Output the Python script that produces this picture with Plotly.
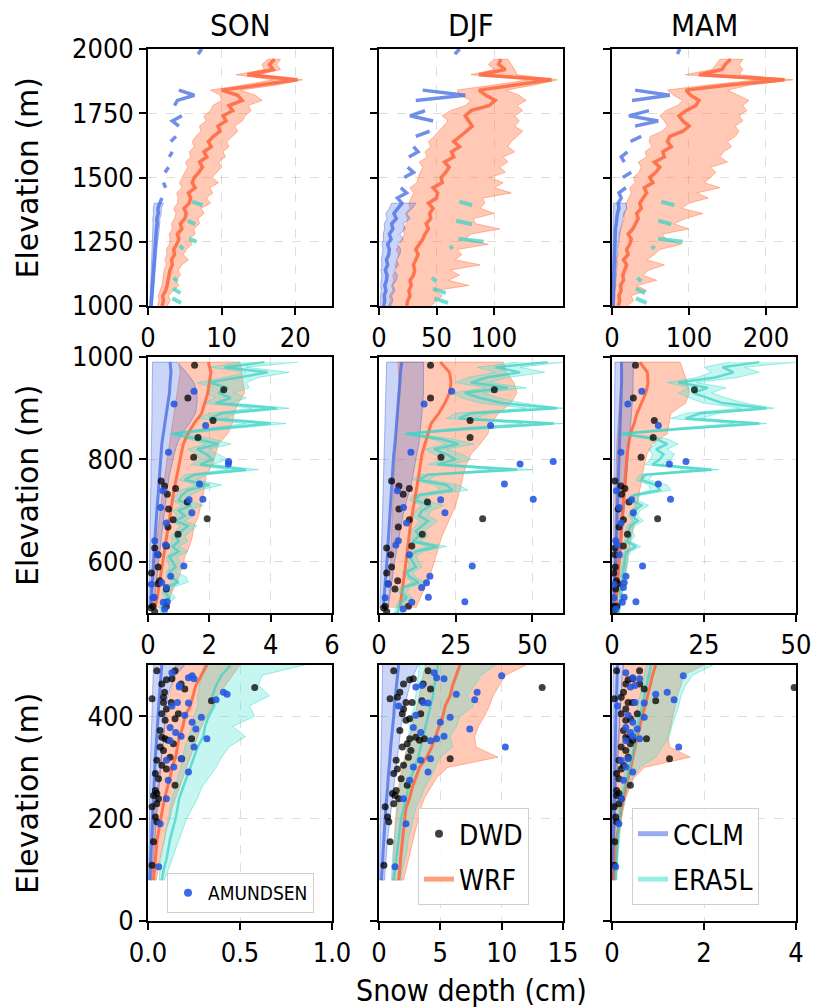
import plotly.graph_objects as go
from plotly.subplots import make_subplots

SEASONS = ["SON", "DJF", "MAM"]

# ---------------- Row 1 (1000-2000 m) ----------------
Z1 = list(range(1000, 1961, 20))      # WRF bins
Z1C = list(range(1000, 2001, 20))     # CCLM median bins
Z1B = list(range(1000, 1401, 20))     # CCLM band bins

WRF1_SON_MED = [1.9, 2.1, 2.0, 2.4, 2.6, 2.7, 2.9, 3.0, 3.3, 3.2, 3.6, 3.5, 3.9, 4.2, 4.0, 4.6, 4.4, 5.0, 5.2, 4.9,
                5.6, 5.8, 5.5, 6.4, 6.0, 6.3, 6.9, 7.4, 7.0, 8.0, 7.6, 8.6, 8.2, 8.9, 9.8, 9.5, 10.6, 10.2, 11.5, 11.0,
                12.8, 12.2, 10.0, 15.5, 20.3, 13.5, 17.0, 16.5, 17.2]
WRF1_SON_LO = [1.3, 1.5, 1.4, 1.7, 1.9, 2.0, 2.1, 2.2, 2.5, 2.3, 2.6, 2.5, 2.9, 3.0, 2.9, 3.3, 3.2, 3.6, 3.8, 3.5,
               4.0, 4.1, 3.9, 4.6, 4.3, 4.6, 5.0, 5.4, 5.1, 5.8, 5.6, 6.3, 6.0, 6.5, 7.2, 7.0, 7.9, 7.6, 8.5, 8.8,
               10.0, 9.8, 8.5, 13.0, 17.0, 12.0, 15.8, 15.5, 16.3]
WRF1_SON_HI = [2.6, 3.0, 2.8, 3.4, 4.2, 3.8, 4.4, 4.1, 4.6, 5.5, 4.8, 5.2, 6.0, 5.6, 6.4, 6.2, 7.0, 6.8, 7.6, 7.2,
               8.5, 7.9, 8.8, 8.4, 9.6, 8.7, 9.3, 10.0, 9.6, 10.5, 10.2, 11.0, 10.7, 11.5, 12.2, 11.8, 12.8, 13.2, 14.0, 13.6,
               15.5, 14.6, 12.5, 17.5, 21.0, 15.0, 18.0, 17.5, 18.0]
WRF1_DJF_MED = [24, 25, 27, 26, 28, 27, 30, 31, 30, 32, 34, 32, 35, 38, 40, 43, 41, 45, 44, 47,
                43, 50, 51, 47, 55, 54, 58, 61, 57, 65, 63, 70, 65, 71, 76, 81, 78, 75, 80, 96,
                101, 93, 87, 119, 150, 87, 110, 104, 106]
WRF1_DJF_LO = [8, 10, 9, 12, 11, 13, 12, 15, 14, 16, 17, 15, 18, 20, 22, 21, 24, 25, 23, 27,
               26, 28, 30, 27, 33, 34, 36, 38, 35, 42, 40, 45, 43, 48, 52, 56, 60, 55, 62, 75,
               80, 70, 68, 100, 130, 80, 100, 95, 100]
WRF1_DJF_HI = [45, 50, 55, 48, 78, 60, 70, 62, 88, 66, 72, 68, 95, 75, 80, 105, 84, 82, 100, 88,
               92, 90, 115, 100, 108, 96, 110, 105, 112, 108, 118, 112, 115, 120, 125, 118, 122, 118, 125, 120,
               128, 122, 110, 135, 155, 120, 118, 115, 112]
WRF1_MAM_MED = [8, 10, 9, 12, 11, 15, 14, 17, 19, 15, 21, 19, 23, 25, 21, 27, 30, 34, 32, 38,
                36, 40, 45, 42, 53, 49, 57, 62, 55, 68, 66, 77, 72, 75, 92, 100, 92, 87, 96, 109,
                113, 102, 96, 152, 224, 113, 143, 147, 154]
WRF1_MAM_LO = [2, 3, 3, 4, 4, 5, 5, 6, 7, 6, 8, 8, 9, 10, 9, 12, 14, 16, 15, 19,
               18, 22, 25, 23, 30, 28, 35, 38, 34, 45, 43, 52, 48, 50, 65, 72, 68, 62, 70, 85,
               92, 80, 72, 125, 190, 95, 130, 135, 140]
WRF1_MAM_HI = [20, 28, 25, 45, 32, 58, 40, 48, 68, 45, 55, 62, 90, 70, 65, 100, 80, 95, 118, 90,
               100, 125, 110, 140, 120, 128, 135, 128, 150, 140, 145, 155, 150, 160, 165, 160, 170, 165, 175, 170,
               178, 165, 150, 180, 235, 165, 170, 165, 170]

CCLM1_SON_MED = [0.4, 0.45, 0.5, 0.5, 0.55, 0.6, 0.65, 0.7, 0.7, 0.8,
                 0.85, 0.9, 0.95, 1.0, 1.1, 1.15, 1.25, 1.2, 1.4, 1.35,
                 1.6, 1.9, None, 2.4, 2.1, None, 2.3, 2.8, None, 2.9,
                 3.3, None, 3.1, 3.8, None, 4.2, 3.3, 4.6, None, 3.6,
                 4.0, 6.3, 4.2, None, None, None, None, None, None, 6.8, 7.3]
CCLM1_DJF_MED = [4, 5, 4.5, 6, 5, 6.5, 7, 5.5, 7.5, 6.5,
                 8.5, 9, 7.5, 10.5, 9, 12, 11, 15, 13, 17,
                 20, 16, 24, 19, None, 22, 30, 25, None, 26,
                 34, 30, None, 32, 44, None, 47, 27, 40, None,
                 32, 75, 38, None, None, None, None, None, None, 66, 70]
CCLM1_MAM_MED = [1, 1.2, 1.5, 1.2, 2, 1.6, 2.2, 2, 2.6, 2.2,
                 3, 2.6, 3.2, 3.8, 4.2, 4.5, 5.5, 6, 7, 9,
                 8, 12, 9, 18, None, 14, 25, None, 16, 12,
                 20, None, 24, 38, None, 30, 60, 22, 48, None,
                 26, 75, 30, None, None, None, None, None, None, 85, 88]
CCLM1_SON_LO = [0.25, 0.28, 0.3, 0.3, 0.33, 0.35, 0.38, 0.4, 0.4, 0.45, 0.48, 0.5, 0.52, 0.55, 0.6, 0.62, 0.68, 0.65, 0.75, 0.72, 0.85]
CCLM1_SON_HI = [0.6, 0.65, 0.7, 0.72, 0.78, 0.85, 0.9, 0.98, 1.0, 1.1, 1.15, 1.2, 1.3, 1.35, 1.45, 1.5, 1.6, 1.6, 1.8, 1.8, 2.1]
CCLM1_DJF_LO = [1, 1.5, 1.2, 2, 1.5, 2, 2.5, 1.8, 2.5, 2.2, 3, 3.5, 2.8, 4, 3.5, 5, 4.5, 7, 6, 9, 11]
CCLM1_DJF_HI = [10, 12, 11, 14, 12, 15, 16, 13, 17, 15, 18, 19, 16, 21, 18, 23, 21, 27, 24, 29, 32]
CCLM1_MAM_LO = [0.2, 0.25, 0.3, 0.25, 0.4, 0.35, 0.45, 0.4, 0.5, 0.45, 0.6, 0.55, 0.7, 0.8, 0.9, 1.0, 1.2, 1.4, 1.6, 2.2, 2.0]
CCLM1_MAM_HI = [3, 3.5, 4, 3.5, 5, 4.5, 5.5, 5, 6.5, 5.5, 7, 6.5, 7.5, 9, 10, 11, 13, 14, 16, 19, 18]

ERA1_Z = [1012, 1030, None, 1050, 1068, None, 1096, 1110, None, 1222, 1234, None, 1250, 1262, None, 1318, 1332, None, 1392, 1406]
ERA1_SON = [4.5, 3.3, None, 4.4, 3.4, None, 4.0, 3.5, None, 4.8, 4.3, None, 6.6, 5.6, None, 6.4, 5.4, None, 7.4, 6.0]
ERA1_DJF = [60, 48, None, 58, 47, None, 50, 46, None, 64, 62, None, 91, 69, None, 81, 67, None, 81, 70]
ERA1_MAM = [45, 31, None, 43, 31, None, 38, 33, None, 55, 52, None, 92, 60, None, 77, 60, None, 81, 64]

# ---------------- Row 2 (500-1000 m) ----------------
Z2 = list(range(510, 991, 20))
Z2E = list(range(990, 499, -10))

WRF2_SON_MED = [0.22, 0.3, 0.35, 0.4, 0.45, 0.5, 0.55, 0.6, 0.65, 0.72, 0.75, 0.82, 0.88, 0.95, 1.0, 1.08, 1.15, 1.3, 1.5, 1.75, 1.85, 1.95, 2.0, 2.05, 1.97]
WRF2_SON_LO = [0.06, 0.1, 0.14, 0.17, 0.2, 0.24, 0.27, 0.3, 0.35, 0.38, 0.42, 0.45, 0.5, 0.55, 0.6, 0.65, 0.7, 0.75, 0.8, 0.85, 0.9, 0.95, 1.0, 1.05, 1.0]
WRF2_SON_HI = [0.55, 0.7, 0.85, 1.0, 1.12, 1.2, 1.35, 1.45, 1.5, 1.65, 1.72, 1.8, 1.85, 1.9, 2.1, 2.2, 2.3, 2.6, 2.75, 2.8, 2.95, 3.15, 3.1, 3.05, 3.0]
CCLM2_SON_MED = [0.08, 0.1, 0.12, 0.14, 0.16, 0.18, 0.2, 0.22, 0.25, 0.28, 0.3, 0.33, 0.35, 0.38, 0.4, 0.43, 0.45, 0.5, 0.55, 0.6, 0.65, 0.7, 0.72, 0.75, 0.72]
CCLM2_SON_LO = [0.02, 0.03, 0.03, 0.04, 0.05, 0.05, 0.06, 0.07, 0.07, 0.08, 0.08, 0.09, 0.09, 0.1, 0.1, 0.11, 0.11, 0.12, 0.12, 0.13, 0.13, 0.14, 0.14, 0.15, 0.15]
CCLM2_SON_HI = [0.18, 0.22, 0.26, 0.3, 0.33, 0.36, 0.4, 0.44, 0.48, 0.52, 0.56, 0.6, 0.65, 0.7, 0.78, 0.85, 0.95, 1.1, 1.35, 1.55, 1.6, 1.6, 1.5, 1.25, 0.95]
WRF2_DJF_MED = [6.8, 7.3, 7.8, 8.2, 8.6, 9.0, 9.3, 9.8, 10.2, 10.8, 11.3, 12.0, 12.5, 13.0, 13.5, 14.0, 15.0, 16.0, 17.0, 19.5, 21.5, 23.0, 23.5, 23.0, 20.0]
WRF2_DJF_LO = [3.0, 3.2, 3.4, 3.5, 3.6, 3.8, 3.9, 4.0, 4.2, 4.3, 4.5, 4.6, 4.8, 5.0, 5.1, 5.3, 5.5, 5.6, 5.8, 6.0, 6.2, 6.3, 6.5, 6.4, 6.2]
WRF2_DJF_HI = [12, 13.5, 15, 16.5, 17.5, 18.5, 19.5, 20.5, 22, 23.5, 25, 26, 26.8, 27.5, 28.5, 30, 33, 35.5, 36.5, 39, 43, 45, 44, 41.5, 40.5]
CCLM2_DJF_MED = [1.4, 1.7, 2.0, 2.2, 2.5, 2.7, 2.9, 3.1, 3.3, 3.5, 3.6, 3.8, 4.0, 4.3, 4.5, 4.8, 5.2, 5.5, 5.8, 6.0, 6.2, 6.5, 6.8, 7.0, 7.4]
CCLM2_DJF_LO = [0.3, 0.4, 0.5, 0.6, 0.7, 0.8, 0.9, 1.0, 1.1, 1.2, 1.3, 1.4, 1.5, 1.6, 1.7, 1.8, 1.9, 2.0, 2.1, 2.2, 2.3, 2.4, 2.5, 2.5, 2.5]
CCLM2_DJF_HI = [3.0, 3.6, 4.0, 4.4, 4.8, 5.2, 5.8, 6.5, 7.2, 7.8, 8.5, 9.5, 10.5, 11.2, 11.7, 12.3, 13.0, 13.4, 13.8, 14.0, 14.3, 14.5, 14.6, 14.5, 14.5]
WRF2_MAM_MED = [0.9, 1.1, 1.3, 1.5, 1.7, 1.9, 2.1, 2.3, 2.5, 2.7, 2.9, 3.1, 3.3, 3.6, 3.9, 4.1, 4.5, 5.0, 6.0, 6.8, 8.0, 9.2, 9.8, 9.6, 7.6]
WRF2_MAM_LO = [0.3, 0.35, 0.4, 0.45, 0.5, 0.55, 0.6, 0.65, 0.7, 0.8, 0.85, 0.9, 0.95, 1.0, 1.1, 1.2, 1.3, 1.5, 1.7, 1.9, 2.1, 2.3, 2.4, 2.4, 2.3]
WRF2_MAM_HI = [2.1, 2.5, 3.0, 3.4, 3.9, 4.3, 4.7, 5.2, 5.6, 6.1, 6.6, 7.2, 7.8, 8.3, 8.8, 9.5, 11, 15, 15.5, 16, 20, 21, 20.5, 19.5, 18.5]
CCLM2_MAM_MED = [0.55, 0.6, 0.7, 0.8, 0.9, 1.0, 1.1, 1.2, 1.3, 1.4, 1.5, 1.6, 1.7, 1.8, 1.9, 2.0, 2.1, 2.2, 2.3, 2.4, 2.5, 2.5, 2.6, 2.6, 2.6]
CCLM2_MAM_LO = [0.1, 0.12, 0.15, 0.18, 0.2, 0.22, 0.25, 0.28, 0.3, 0.35, 0.4, 0.45, 0.5, 0.55, 0.6, 0.62, 0.65, 0.7, 0.72, 0.75, 0.78, 0.8, 0.8, 0.8, 0.8]
CCLM2_MAM_HI = [1.3, 1.5, 1.7, 1.9, 2.1, 2.3, 2.5, 2.7, 2.9, 3.1, 3.3, 3.5, 3.7, 3.9, 4.1, 4.3, 4.5, 4.8, 5.0, 5.3, 5.5, 5.7, 5.8, 5.8, 5.8]

ERA2_SON_MED = [3.8, 2.5, 3.9, 3.0, 2.0, 2.6, 2.3, 2.7, 2.2, 4.2, 2.4, 2.0, 4.0, 2.2, 0.8, 1.6, 2.3, 1.6, 1.9, 2.1,
                1.7, 3.2, 1.5, 1.2, 2.0, 1.3, 1.1, 1.0, 1.4, 1.0, 1.2, 0.9, 1.3, 1.1, 0.9, 1.0, 0.8, 1.0, 0.7, 0.8,
                0.9, 0.7, 0.75, 1.0, 0.6, 0.55, 0.7, 0.5, 0.45, 0.5]
ERA2_SON_LO = [3.0, 2.0, 3.2, 2.5, 1.6, 2.1, 1.9, 2.2, 1.8, 3.4, 2.0, 1.6, 3.2, 1.8, 0.7, 1.3, 1.9, 1.3, 1.6, 1.7,
               1.4, 2.6, 1.2, 1.0, 1.6, 1.05, 0.9, 0.8, 1.1, 0.8, 0.95, 0.75, 1.05, 0.9, 0.75, 0.8, 0.65, 0.8, 0.6, 0.65,
               0.7, 0.6, 0.6, 0.8, 0.5, 0.45, 0.55, 0.42, 0.38, 0.4]
ERA2_SON_HI = [4.9, 3.2, 4.6, 3.6, 3.2, 3.3, 2.8, 3.2, 2.7, 4.6, 2.9, 2.5, 4.5, 2.7, 1.2, 2.1, 2.7, 2.0, 2.3, 2.6,
               2.1, 3.6, 1.9, 1.6, 2.4, 1.7, 1.4, 1.3, 1.8, 1.3, 1.5, 1.2, 1.6, 1.4, 1.2, 1.3, 1.0, 1.3, 0.95, 1.05,
               1.15, 0.9, 1.25, 1.3, 0.8, 0.75, 0.9, 0.68, 0.6, 0.65]
ERA2_DJF_MED = [55, 38, 46, 35, 30, 42, 28, 33, 40, 58, 30, 26, 57, 28, 9, 20, 26, 18, 22, 25,
                19, 45, 16, 13, 22, 24, 13, 12, 17, 14, 13, 16, 14, 12, 13, 11, 19, 12, 10, 11,
                12, 9, 10, 13, 8, 7.5, 9, 7, 6.5, 6]
ERA2_DJF_LO = [45, 32, 38, 29, 25, 35, 24, 27, 33, 48, 25, 22, 47, 23, 8, 17, 22, 15, 18, 21,
               16, 37, 13, 11, 18, 20, 11, 10, 14, 12, 11, 13, 12, 10, 11, 9.5, 16, 10, 8.5, 9.5,
               10, 7.5, 8.5, 11, 7, 6.5, 7.5, 6, 5.5, 5]
ERA2_DJF_HI = [60, 46, 54, 42, 36, 48, 34, 39, 47, 60, 36, 31, 60, 34, 11, 24, 31, 22, 27, 30,
               23, 50, 19, 16, 26, 29, 16, 15, 21, 17, 16, 19, 17, 15, 16, 13.5, 22, 14.5, 12, 13,
               14, 11, 12, 15, 10, 9, 11, 8.5, 8, 7.5]
ERA2_MAM_MED = [40, 30, 33, 28, 18, 26, 22, 26, 30, 42, 24, 20, 40, 19, 2.5, 12, 15, 12, 14, 13,
                11, 27, 9, 8, 12, 13, 6, 5.5, 8, 6, 5.5, 7, 5, 4.5, 5, 4, 6.5, 4, 3.5, 3.5,
                3.2, 3, 2.8, 3.4, 2.4, 2.2, 2.5, 2, 1.8, 1.7]
ERA2_MAM_LO = [32, 25, 27, 23, 15, 21, 18, 21, 25, 35, 20, 16, 33, 15, 2, 10, 12, 10, 11, 10.5,
               9, 22, 7.5, 6.5, 10, 10.5, 5, 4.5, 6.5, 5, 4.5, 5.5, 4, 3.7, 4, 3.3, 5.2, 3.3, 2.9, 2.9,
               2.6, 2.4, 2.3, 2.7, 2, 1.8, 2, 1.6, 1.5, 1.4]
ERA2_MAM_HI = [50, 36, 40, 34, 23, 31, 27, 31, 36, 44, 29, 24, 42, 23, 3.2, 15, 18, 15, 17, 16,
               13.5, 29, 11, 10, 15, 16, 7.5, 7, 10, 7.5, 7, 8.5, 6.2, 5.6, 6.2, 5, 7.8, 5, 4.4, 4.4,
               4, 3.8, 3.5, 4.2, 3, 2.8, 3.1, 2.5, 2.3, 2.1]

DWD2_ELEV = [984, 920, 876, 843, 804, 936, 758, 748, 732, 743, 717, 684, 703, 682, 668, 654, 631, 627, 614, 590,
             578, 563, 547, 557, 513, 513, 503, 510]
DWD2_SON = [1.52, 1.30, 2.12, 1.63, 1.49, 2.47, 0.43, 0.54, 0.63, 0.90, 1.28, 1.93, 0.67, 0.82, 0.65, 0.98, 0.60, 0.22, 0.33, 0.33,
            0.11, 0.38, 0.60, 0.33, 0.60, 0.16, 0.22, 0.09]
DWD2_DJF = [16.8, 16.8, 29.7, 29.7, 20.2, 37.6, 4.1, 6.5, 7.9, 9.9, 15.8, 33.8, 6.5, 9.9, 6.3, 14.1, 10.7, 2.5, 3.8, 4.1,
            2.5, 6.1, 5.2, 3.0, 9.6, 2.0, 2.5, 1.5]
DWD2_MAM = [6.4, 5.8, 11.5, 11.2, 7.9, 22.4, 0.8, 2.4, 2.6, 3.5, 4.6, 12.4, 1.7, 3.1, 1.9, 4.2, 3.1, 0.8, 0.8, 0.9,
            0.5, 1.2, 1.0, 1.7, 1.3, 0.4, 0.5, 0.3]
AMU2_ELEV = [933, 908, 866, 814, 796, 791, 752, 739, 722, 721, 696, 706, 676, 641, 633, 614, 592, 572, 559, 550,
             531, 522, 521, 508, 530, 556]
AMU2_SON = [1.50, 0.85, 1.88, 0.67, 2.63, 2.62, 1.68, 0.49, 1.79, 1.34, 1.43, 0.41, 0.60, 0.22, 0.57, 0.30, 1.17, 0.74, 0.45, 0.60,
            0.20, 0.63, 0.50, 0.54, 0.16, 0.11]
AMU2_DJF = [23.7, 14.7, 36.4, 10.4, 56.8, 46.0, 40.9, 6.0, 50.3, 20.1, 21.5, 8.0, 9.0, 6.3, 5.5, 9.9, 30.4, 16.6, 15.5, 13.9,
            16.1, 28.0, 10.7, 7.9, 2.0, 3.0]
AMU2_MAM = [8.1, 4.3, 12.6, 2.4, 20.1, 15.6, 12.6, 1.2, 15.9, 5.3, 5.8, 2.0, 2.5, 1.0, 1.5, 2.0, 8.3, 3.8, 3.3, 3.1,
            3.3, 6.5, 2.8, 1.0, 0.5, 0.6]

# ---------------- Row 3 (0-500 m) ----------------
Z3 = list(range(500, 79, -20))

WRF3_SON_MED = [0.32, 0.29, 0.26, 0.245, 0.23, 0.20, 0.19, 0.17, 0.16, 0.15, 0.13, 0.12, 0.105, 0.09, 0.08, 0.07, 0.06, 0.05, 0.045, 0.04, 0.035, 0.03]
WRF3_SON_LO = [0.15, 0.14, 0.13, 0.12, 0.11, 0.10, 0.09, 0.085, 0.08, 0.07, 0.065, 0.06, 0.05, 0.045, 0.04, 0.035, 0.03, 0.025, 0.02, 0.02, 0.015, 0.015]
WRF3_SON_HI = [0.50, 0.46, 0.42, 0.38, 0.35, 0.32, 0.29, 0.27, 0.25, 0.23, 0.21, 0.19, 0.17, 0.15, 0.13, 0.12, 0.10, 0.09, 0.075, 0.065, 0.055, 0.045]
ERA3_SON_MED = [0.45, 0.40, 0.37, 0.35, 0.36, 0.33, 0.31, 0.30, 0.27, 0.25, 0.23, 0.21, 0.19, 0.17, 0.16, 0.15, 0.135, 0.12, 0.11, 0.10, 0.085, 0.075]
ERA3_SON_LO = [0.30, 0.29, 0.28, 0.27, 0.27, 0.25, 0.24, 0.22, 0.2, 0.19, 0.18, 0.16, 0.15, 0.13, 0.12, 0.11, 0.10, 0.09, 0.08, 0.07, 0.065, 0.06]
ERA3_SON_HI = [0.85, 0.62, 0.60, 0.66, 0.55, 0.58, 0.46, 0.53, 0.44, 0.40, 0.37, 0.33, 0.29, 0.27, 0.24, 0.21, 0.19, 0.17, 0.15, 0.13, 0.11, 0.09]
CCLM3_SON_MED = [0.075, 0.07, 0.066, 0.062, 0.058, 0.055, 0.05, 0.047, 0.044, 0.04, 0.037, 0.034, 0.031, 0.028, 0.025, 0.022, 0.02, 0.018, 0.016, 0.014, 0.012, 0.01]
CCLM3_SON_LO = [0.03, 0.028, 0.026, 0.024, 0.022, 0.02, 0.018, 0.016, 0.015, 0.014, 0.012, 0.011, 0.01, 0.009, 0.008, 0.007, 0.006, 0.005, 0.004, 0.004, 0.003, 0.003]
CCLM3_SON_HI = [0.2, 0.15, 0.125, 0.11, 0.1, 0.095, 0.09, 0.085, 0.08, 0.075, 0.07, 0.065, 0.06, 0.055, 0.05, 0.045, 0.04, 0.036, 0.032, 0.028, 0.024, 0.02]

WRF3_DJF_MED = [6.6, 6.3, 6.0, 5.8, 5.4, 5.2, 4.9, 4.6, 4.3, 3.9, 3.3, 3.0, 2.7, 2.5, 2.2, 2.1, 2.0, 1.95, 1.85, 1.75, 1.7, 1.6]
WRF3_DJF_LO = [3.8, 3.6, 3.4, 3.3, 3.1, 2.9, 2.7, 2.5, 2.3, 2.1, 1.9, 1.7, 1.6, 1.5, 1.4, 1.35, 1.3, 1.25, 1.2, 1.2, 1.15, 1.1]
WRF3_DJF_HI = [12.0, 10.3, 9.8, 9.3, 9.0, 8.6, 8.1, 7.8, 7.9, 9.7, 5.6, 4.7, 4.2, 3.7, 3.4, 3.2, 3.0, 2.8, 2.6, 2.4, 2.2, 2.0]
ERA3_DJF_MED = [4.8, 4.7, 4.5, 4.4, 4.2, 4.0, 3.8, 3.6, 3.4, 3.2, 2.9, 2.6, 2.4, 2.2, 2.0, 1.8, 1.7, 1.6, 1.5, 1.4, 1.3, 1.2]
ERA3_DJF_LO = [3.3, 3.2, 3.1, 3.0, 2.9, 2.6, 2.5, 2.4, 2.3, 2.2, 2.0, 1.9, 1.7, 1.6, 1.5, 1.4, 1.3, 1.2, 1.15, 1.1, 1.05, 1.0]
ERA3_DJF_HI = [9.5, 8.3, 7.8, 7.2, 7.7, 6.6, 6.3, 5.8, 6.0, 5.0, 4.6, 4.2, 3.7, 3.4, 3.0, 2.8, 2.6, 2.4, 2.3, 2.1, 1.9, 1.8]
CCLM3_DJF_MED = [1.6, 1.5, 1.4, 1.3, 1.25, 1.2, 1.1, 1.0, 0.95, 0.9, 0.8, 0.75, 0.7, 0.6, 0.55, 0.5, 0.45, 0.4, 0.35, 0.3, 0.25, 0.2]
CCLM3_DJF_LO = [0.3, 0.28, 0.26, 0.24, 0.22, 0.2, 0.19, 0.18, 0.17, 0.16, 0.15, 0.14, 0.13, 0.12, 0.11, 0.1, 0.09, 0.08, 0.07, 0.06, 0.05, 0.05]
CCLM3_DJF_HI = [3.2, 2.8, 2.5, 2.3, 2.1, 1.9, 1.8, 1.7, 1.6, 1.5, 1.4, 1.3, 1.2, 1.1, 1.0, 0.9, 0.8, 0.7, 0.6, 0.55, 0.5, 0.45]

WRF3_MAM_MED = [0.95, 0.88, 0.83, 0.78, 0.72, 0.66, 0.6, 0.55, 0.50, 0.46, 0.41, 0.35, 0.3, 0.25, 0.2, 0.17, 0.13, 0.1, 0.08, 0.06, 0.05, 0.04]
WRF3_MAM_LO = [0.25, 0.23, 0.21, 0.2, 0.18, 0.16, 0.15, 0.13, 0.12, 0.1, 0.09, 0.08, 0.07, 0.06, 0.05, 0.04, 0.035, 0.03, 0.025, 0.02, 0.02, 0.015]
WRF3_MAM_HI = [2.0, 1.55, 1.5, 1.42, 1.38, 1.32, 1.28, 1.22, 1.25, 1.7, 0.7, 0.48, 0.38, 0.3, 0.25, 0.2, 0.17, 0.14, 0.12, 0.1, 0.08, 0.07]
ERA3_MAM_MED = [0.85, 0.8, 0.75, 0.7, 0.65, 0.6, 0.56, 0.52, 0.48, 0.44, 0.38, 0.32, 0.27, 0.22, 0.18, 0.16, 0.14, 0.12, 0.11, 0.1, 0.09, 0.08]
ERA3_MAM_LO = [0.75, 0.7, 0.65, 0.6, 0.55, 0.5, 0.46, 0.43, 0.4, 0.36, 0.3, 0.25, 0.21, 0.17, 0.14, 0.12, 0.11, 0.1, 0.09, 0.08, 0.07, 0.06]
ERA3_MAM_HI = [2.2, 1.75, 1.6, 1.5, 1.45, 1.38, 1.3, 1.25, 1.1, 0.95, 0.6, 0.45, 0.36, 0.28, 0.24, 0.2, 0.18, 0.16, 0.14, 0.12, 0.11, 0.1]
CCLM3_MAM_MED = [0.12, 0.11, 0.1, 0.095, 0.09, 0.085, 0.08, 0.075, 0.07, 0.065, 0.06, 0.055, 0.05, 0.045, 0.04, 0.035, 0.03, 0.027, 0.024, 0.02, 0.017, 0.015]
CCLM3_MAM_LO = [0.03, 0.028, 0.026, 0.024, 0.022, 0.02, 0.018, 0.016, 0.015, 0.014, 0.012, 0.011, 0.01, 0.009, 0.008, 0.007, 0.006, 0.005, 0.004, 0.004, 0.003, 0.003]
CCLM3_MAM_HI = [0.25, 0.22, 0.2, 0.19, 0.18, 0.17, 0.16, 0.15, 0.14, 0.13, 0.12, 0.11, 0.1, 0.09, 0.08, 0.07, 0.06, 0.055, 0.05, 0.045, 0.04, 0.035]

DWD3_ELEV = [456, 434, 463, 471, 473, 463, 453, 447, 437, 427, 427, 414, 395, 405, 356, 372, 359, 356, 353, 340,
             333, 346, 317, 314, 304, 297, 288, 278, 265, 249, 245, 239, 229, 203, 194, 155, 109, 430, 489, 489,
             405, 392, 320, 255, 223]
DWD3_SON = [0.58, 0.022, 0.075, 0.10, 0.13, 0.18, 0.20, 0.09, 0.084, 0.084, 0.126, 0.10, 0.147, 0.165, 0.237, 0.066, 0.075, 0.093, 0.11, 0.066,
            0.084, 0.138, 0.183, 0.048, 0.075, 0.10, 0.04, 0.057, 0.147, 0.048, 0.03, 0.057, 0.048, 0.04, 0.048, 0.03, 0.022, 0.345, 0.048, 0.147,
            0.075, 0.093, 0.12, 0.04, 0.022]
DWD3_DJF = [13.3, 0.9, 2.0, 2.5, 2.8, 3.6, 4.2, 1.7, 1.5, 2.2, 2.7, 2.0, 2.5, 3.4, 3.7, 1.7, 3.0, 2.5, 3.3, 1.9,
            2.6, 2.3, 5.8, 1.4, 2.0, 1.5, 1.2, 1.8, 2.3, 1.1, 1.3, 1.6, 1.2, 0.7, 0.8, 0.9, 0.4, 3.5, 1.2, 4.0,
            1.9, 2.2, 2.4, 1.4, 0.5]
DWD3_MAM = [3.96, 0.05, 0.3, 0.35, 0.45, 0.6, 0.7, 0.25, 0.2, 0.35, 0.45, 0.3, 0.4, 0.55, 0.75, 0.25, 0.3, 0.35, 0.45, 0.2,
            0.3, 0.4, 1.25, 0.15, 0.25, 0.2, 0.1, 0.15, 0.4, 0.15, 0.1, 0.2, 0.15, 0.08, 0.1, 0.06, 0.05, 0.95, 0.1, 0.6,
            0.2, 0.3, 0.35, 0.1, 0.05]
AMU3_ELEV = [475, 473, 460, 447, 443, 432, 427, 426, 398, 388, 375, 378, 356, 340, 361, 352, 291, 317, 301, 314,
             275, 239, 190, 106, 457, 368, 479, 485, 420, 402]
AMU3_SON = [0.22, 0.25, 0.17, 0.41, 0.43, 0.37, 0.16, 0.22, 0.29, 0.24, 0.26, 0.12, 0.32, 0.25, 0.18, 0.12, 0.22, 0.18, 0.14, 0.10,
            0.11, 0.10, 0.066, 0.058, 0.17, 0.15, 0.24, 0.13, 0.13, 0.2]
AMU3_DJF = [4.7, 5.3, 3.5, 8.0, 6.3, 7.8, 3.6, 4.0, 5.8, 5.0, 7.4, 2.8, 4.7, 10.3, 5.3, 4.2, 4.0, 4.2, 2.8, 3.4,
            2.5, 2.0, 2.2, 1.3, 3.0, 3.4, 10.0, 4.5, 1.6, 3.0]
AMU3_MAM = [0.45, 0.6, 0.5, 1.2, 0.95, 1.35, 0.5, 0.7, 0.7, 0.45, 0.55, 0.3, 0.6, 1.45, 0.45, 0.3, 0.45, 0.35, 0.3, 0.2,
            0.25, 0.2, 0.15, 0.08, 0.4, 0.4, 1.55, 0.3, 0.12, 0.35]

# ---------------- Axes ----------------
X_RANGES = [[[0, 25], [0, 160], [0, 239]], [[0, 6], [0, 60], [0, 50]], [[0, 1], [0, 15], [0, 4]]]
X_TICKS = [[[0, 10, 20], [0, 50, 100], [0, 100, 200]], [[0, 2, 4, 6], [0, 25, 50], [0, 25, 50]],
           [[0, 0.5, 1], [0, 5, 10, 15], [0, 2, 4]]]
X_TICKTEXT_R3C1 = ["0.0", "0.5", "1.0"]
Y_RANGES = [[1000, 2000], [500, 1000], [0, 500]]
Y_TICKS = [[1000, 1250, 1500, 1750, 2000], [600, 800, 1000], [0, 200, 400]]

# The page body adds an 8 px margin, so the figure is 812x1000 and all page positions shift by 8 px.
OFF = 8
W, H = 812, 1000
XDOM = [(148, 332), (379, 563), (612, 796)]     # page pixels
YDOM = [(49, 306), (357, 613), (665, 921)]


def px(p):
    return (p - OFF) / W


def py(p):
    return 1 - (p - OFF) / H


FONT_N = "DejaVu Sans Condensed, Liberation Sans Narrow, Roboto, DejaVu Sans"
WRF_LINE = "rgba(255,100,60,0.85)"
WRF_FILL = "rgba(255,127,80,0.42)"
WRF_EDGE = "rgba(255,127,80,0.55)"
CCLM_LINE = "rgba(65,105,225,0.75)"
CCLM_FILL = "rgba(65,105,225,0.28)"
CCLM_EDGE = "rgba(65,105,225,0.45)"
ERA_LINE = "rgba(64,210,196,0.75)"
ERA_FILL = "rgba(64,224,208,0.30)"
ERA_EDGE = "rgba(64,224,208,0.50)"
DWD_COL = "rgba(0,0,0,0.75)"
AMU_COL = "rgba(35,85,225,0.88)"

fig = make_subplots(rows=3, cols=3)


def band(z, lo, hi, fill, edge, r, c):
    segs, cur = [], []
    for a, b, d in zip(z, lo, hi):
        if b is None or d is None:
            if cur:
                segs.append(cur)
            cur = []
        else:
            cur.append((a, b, d))
    if cur:
        segs.append(cur)
    for seg in segs:
        zs = [s[0] for s in seg]
        los = [s[1] for s in seg]
        his = [s[2] for s in seg]
        fig.add_trace(go.Scatter(x=los + his[::-1], y=zs + zs[::-1], fill="toself", fillcolor=fill,
                                 mode="lines", line=dict(color=edge, width=1), hoverinfo="skip",
                                 showlegend=False), row=r, col=c)


def line(z, x, color, width, r, c):
    fig.add_trace(go.Scatter(x=x, y=z, mode="lines", line=dict(color=color, width=width),
                             connectgaps=False, hoverinfo="skip", showlegend=False), row=r, col=c)


def points(z, x, color, r, c):
    fig.add_trace(go.Scatter(x=x, y=z, mode="markers", marker=dict(color=color, size=7, line=dict(width=0)),
                             hoverinfo="skip", showlegend=False), row=r, col=c)


ROW1 = {
    "SON": (WRF1_SON_MED, WRF1_SON_LO, WRF1_SON_HI, CCLM1_SON_MED, CCLM1_SON_LO, CCLM1_SON_HI, ERA1_SON),
    "DJF": (WRF1_DJF_MED, WRF1_DJF_LO, WRF1_DJF_HI, CCLM1_DJF_MED, CCLM1_DJF_LO, CCLM1_DJF_HI, ERA1_DJF),
    "MAM": (WRF1_MAM_MED, WRF1_MAM_LO, WRF1_MAM_HI, CCLM1_MAM_MED, CCLM1_MAM_LO, CCLM1_MAM_HI, ERA1_MAM),
}
for c, s in enumerate(SEASONS, start=1):
    wm, wl, wh, cm, cl, ch, er = ROW1[s]
    band(Z1, wl, wh, WRF_FILL, WRF_EDGE, 1, c)
    band(Z1B, cl, ch, CCLM_FILL, CCLM_EDGE, 1, c)
    line(Z1C, cm, CCLM_LINE, 3.5, 1, c)
    line(Z1, wm, WRF_LINE, 3.5, 1, c)
    line(ERA1_Z, er, ERA_LINE, 4, 1, c)

ROW2 = {
    "SON": (WRF2_SON_MED, WRF2_SON_LO, WRF2_SON_HI, CCLM2_SON_MED, CCLM2_SON_LO, CCLM2_SON_HI,
            ERA2_SON_MED, ERA2_SON_LO, ERA2_SON_HI, DWD2_SON, AMU2_SON),
    "DJF": (WRF2_DJF_MED, WRF2_DJF_LO, WRF2_DJF_HI, CCLM2_DJF_MED, CCLM2_DJF_LO, CCLM2_DJF_HI,
            ERA2_DJF_MED, ERA2_DJF_LO, ERA2_DJF_HI, DWD2_DJF, AMU2_DJF),
    "MAM": (WRF2_MAM_MED, WRF2_MAM_LO, WRF2_MAM_HI, CCLM2_MAM_MED, CCLM2_MAM_LO, CCLM2_MAM_HI,
            ERA2_MAM_MED, ERA2_MAM_LO, ERA2_MAM_HI, DWD2_MAM, AMU2_MAM),
}
ROW3 = {
    "SON": (WRF3_SON_MED, WRF3_SON_LO, WRF3_SON_HI, CCLM3_SON_MED, CCLM3_SON_LO, CCLM3_SON_HI,
            ERA3_SON_MED, ERA3_SON_LO, ERA3_SON_HI, DWD3_SON, AMU3_SON),
    "DJF": (WRF3_DJF_MED, WRF3_DJF_LO, WRF3_DJF_HI, CCLM3_DJF_MED, CCLM3_DJF_LO, CCLM3_DJF_HI,
            ERA3_DJF_MED, ERA3_DJF_LO, ERA3_DJF_HI, DWD3_DJF, AMU3_DJF),
    "MAM": (WRF3_MAM_MED, WRF3_MAM_LO, WRF3_MAM_HI, CCLM3_MAM_MED, CCLM3_MAM_LO, CCLM3_MAM_HI,
            ERA3_MAM_MED, ERA3_MAM_LO, ERA3_MAM_HI, DWD3_MAM, AMU3_MAM),
}
for r, table, zg, ze, dz, az in [(2, ROW2, Z2, Z2E, DWD2_ELEV, AMU2_ELEV), (3, ROW3, Z3, Z3, DWD3_ELEV, AMU3_ELEV)]:
    for c, s in enumerate(SEASONS, start=1):
        wm, wl, wh, cm, cl, ch, em, el, eh, dv, av = table[s]
        band(zg, wl, wh, WRF_FILL, WRF_EDGE, r, c)
        band(zg, cl, ch, CCLM_FILL, CCLM_EDGE, r, c)
        band(ze, el, eh, ERA_FILL, ERA_EDGE, r, c)
        line(zg, cm, CCLM_LINE, 3, r, c)
        line(zg, wm, WRF_LINE, 3, r, c)
        line(ze, em, ERA_LINE, 2.5, r, c)
        points(dz, dv, DWD_COL, r, c)
        points(az, av, AMU_COL, r, c)


def legend_entry(name, legend, mode, color, r, c, grp):
    kw = dict(x=[None], y=[None], name=name, legend=legend, mode=mode, showlegend=True,
              legendgroup=grp, hoverinfo="skip")
    if mode == "markers":
        kw["marker"] = dict(color=color, size=8)
    else:
        kw["line"] = dict(color=color, width=5)
    fig.add_trace(go.Scatter(**kw), row=r, col=c)


legend_entry("AMUNDSEN", "legend", "markers", AMU_COL, 3, 1, "a")
legend_entry("DWD", "legend2", "markers", DWD_COL, 3, 2, "d")
legend_entry("WRF", "legend2", "lines", "rgba(255,127,80,0.75)", 3, 2, "w")
legend_entry("CCLM", "legend3", "lines", "rgba(65,105,225,0.55)", 3, 3, "c")
legend_entry("ERA5L", "legend3", "lines", "rgba(64,224,208,0.55)", 3, 3, "e")

TICKFONT = dict(family=FONT_N, size=27, color="black")
for r in range(3):
    for c in range(3):
        i = r * 3 + c + 1
        xa = "xaxis" if i == 1 else "xaxis%d" % i
        ya = "yaxis" if i == 1 else "yaxis%d" % i
        tv = X_TICKS[r][c]
        tt = X_TICKTEXT_R3C1 if (r == 2 and c == 0) else [str(v) for v in tv]
        common = dict(showgrid=True, gridcolor="rgba(0,0,0,0.13)", griddash="dash", gridwidth=1,
                      showline=True, mirror=True, linecolor="black", linewidth=1.6,
                      ticks="outside", ticklen=7, tickwidth=1.6, tickcolor="black",
                      zeroline=False, tickfont=TICKFONT, automargin=False)
        fig.layout[xa].update(domain=[px(XDOM[c][0]), px(XDOM[c][1])], range=X_RANGES[r][c],
                              tickmode="array", tickvals=tv, ticktext=tt, **common)
        fig.layout[ya].update(domain=[py(YDOM[r][1]), py(YDOM[r][0])], range=Y_RANGES[r],
                              tickmode="array", tickvals=Y_TICKS[r], ticktext=[str(v) for v in Y_TICKS[r]],
                              showticklabels=(c == 0), **common)

ann = []
for c, s in enumerate(SEASONS):
    ann.append(dict(text=s, x=px((XDOM[c][0] + XDOM[c][1]) / 2), y=py(25), xref="paper", yref="paper",
                    xanchor="center", yanchor="middle", showarrow=False,
                    font=dict(family=FONT_N, size=31, color="black")))
for r in range(3):
    ann.append(dict(text="Elevation (m)", x=px(27), y=py((YDOM[r][0] + YDOM[r][1]) / 2), xref="paper",
                    yref="paper", xanchor="center", yanchor="middle", textangle=-90, showarrow=False,
                    font=dict(family="DejaVu Sans", size=30, color="black")))
ann.append(dict(text="Snow depth (cm)", x=px((XDOM[1][0] + XDOM[1][1]) / 2), y=py(990), xref="paper",
                yref="paper", xanchor="center", yanchor="middle", showarrow=False,
                font=dict(family=FONT_N, size=30, color="black")))

LEG = dict(bgcolor="rgba(255,255,255,0.85)", bordercolor="#cfcfcf", borderwidth=1, tracegroupgap=6,
           xanchor="left", yanchor="top")
fig.update_layout(
    width=W, height=H, autosize=False, margin=dict(l=0, r=0, t=0, b=0, autoexpand=False),
    paper_bgcolor="white", plot_bgcolor="white", annotations=ann,
    legend=dict(x=px(167), y=py(873), font=dict(family=FONT_N, size=19, color="black"), **LEG),
    legend2=dict(x=px(418), y=py(808), font=dict(family=FONT_N, size=28, color="black"), **LEG),
    legend3=dict(x=px(632), y=py(808), font=dict(family=FONT_N, size=28, color="black"), **LEG),
)

fig.write_html("out.html")
